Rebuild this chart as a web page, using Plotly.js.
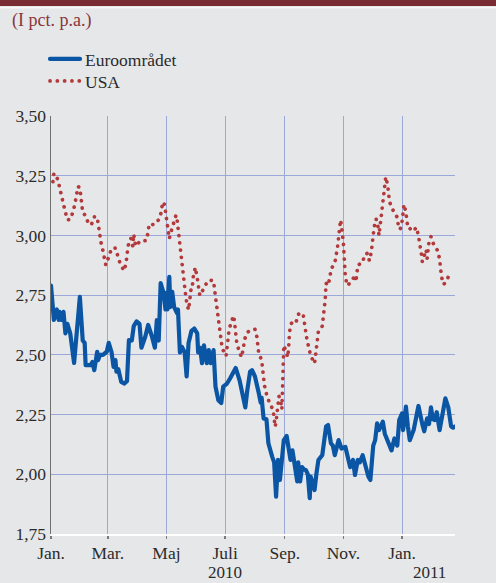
<!DOCTYPE html>
<html>
<head>
<meta charset="utf-8">
<script src="https://cdn.plot.ly/plotly-3.0.1.min.js"></script>
<style>
  body { margin:0; background:#e6e7e9; }
  #chart { width:496px; height:583px; }
  .js-line { stroke-linecap: round; stroke-linejoin: round; }
</style>
</head>
<body>
<div id="chart"></div>
<script>
// Euroområdet (blå, fuld linje)
const euroDates = ['2010-01-01','2010-01-02','2010-01-04','2010-01-07','2010-01-09','2010-01-10','2010-01-12','2010-01-14','2010-01-16','2010-01-18','2010-01-21','2010-01-25','2010-01-27','2010-01-29','2010-01-31','2010-02-03','2010-02-05','2010-02-06','2010-02-11','2010-02-13','2010-02-15','2010-02-18','2010-02-19','2010-02-21','2010-02-24','2010-02-28','2010-03-02','2010-03-05','2010-03-07','2010-03-09','2010-03-10','2010-03-12','2010-03-15','2010-03-18','2010-03-21','2010-03-23','2010-03-26','2010-03-28','2010-03-31','2010-04-03','2010-04-05','2010-04-09','2010-04-12','2010-04-16','2010-04-19','2010-04-21','2010-04-23','2010-04-25','2010-04-28','2010-04-30','2010-05-01','2010-05-02','2010-05-04','2010-05-05','2010-05-07','2010-05-09','2010-05-12','2010-05-13','2010-05-15','2010-05-17','2010-05-20','2010-05-22','2010-05-24','2010-05-27','2010-05-30','2010-06-02','2010-06-03','2010-06-05','2010-06-07','2010-06-09','2010-06-12','2010-06-14','2010-06-16','2010-06-19','2010-06-21','2010-06-24','2010-06-27','2010-06-29','2010-07-03','2010-07-06','2010-07-10','2010-07-12','2010-07-16','2010-07-19','2010-07-22','2010-07-24','2010-07-27','2010-07-29','2010-08-01','2010-08-05','2010-08-07','2010-08-08','2010-08-10','2010-08-13','2010-08-15','2010-08-19','2010-08-21','2010-08-23','2010-08-25','2010-08-27','2010-08-29','2010-08-31','2010-09-03','2010-09-04','2010-09-07','2010-09-09','2010-09-11','2010-09-14','2010-09-15','2010-09-17','2010-09-19','2010-09-21','2010-09-23','2010-09-25','2010-09-27','2010-09-28','2010-09-30','2010-10-02','2010-10-04','2010-10-06','2010-10-10','2010-10-12','2010-10-14','2010-10-16','2010-10-19','2010-10-21','2010-10-23','2010-10-27','2010-10-30','2010-11-03','2010-11-05','2010-11-08','2010-11-11','2010-11-13','2010-11-16','2010-11-18','2010-11-21','2010-11-24','2010-11-27','2010-11-29','2010-12-02','2010-12-04','2010-12-06','2010-12-08','2010-12-12','2010-12-14','2010-12-18','2010-12-21','2010-12-24','2010-12-27','2010-12-29','2011-01-01','2011-01-02','2011-01-05','2011-01-07','2011-01-09','2011-01-13','2011-01-16','2011-01-18','2011-01-22','2011-01-24','2011-01-27','2011-01-29','2011-01-31','2011-02-02','2011-02-04','2011-02-06','2011-02-09','2011-02-11','2011-02-15','2011-02-18','2011-02-21','2011-02-23','2011-02-25'];
const euroVals = [2.79,2.73,2.646,2.69,2.646,2.68,2.646,2.68,2.59,2.63,2.59,2.466,2.56,2.66,2.743,2.56,2.55,2.457,2.457,2.47,2.436,2.513,2.478,2.50,2.50,2.513,2.55,2.51,2.45,2.478,2.43,2.44,2.387,2.38,2.39,2.562,2.56,2.62,2.64,2.63,2.53,2.576,2.625,2.576,2.53,2.645,2.56,2.80,2.76,2.69,2.76,2.69,2.827,2.70,2.764,2.70,2.675,2.69,2.51,2.534,2.51,2.41,2.55,2.60,2.61,2.59,2.51,2.53,2.465,2.54,2.465,2.52,2.465,2.52,2.367,2.31,2.298,2.367,2.38,2.40,2.436,2.445,2.394,2.34,2.28,2.35,2.43,2.436,2.41,2.34,2.30,2.32,2.234,2.23,2.13,2.073,2.05,1.906,2.06,1.976,2.09,2.143,2.16,2.14,2.06,2.10,2.05,1.97,2.05,1.97,2.03,2.02,2.018,2.00,1.90,1.99,1.96,1.934,2.005,2.06,2.08,2.143,2.20,2.206,2.13,2.12,2.08,2.143,2.108,2.115,2.073,2.03,2.06,1.997,2.06,2.05,2.08,2.03,1.99,1.976,2.12,2.143,2.213,2.185,2.22,2.17,2.13,2.10,2.15,2.12,2.227,2.255,2.185,2.283,2.20,2.143,2.185,2.24,2.286,2.21,2.18,2.234,2.21,2.28,2.23,2.227,2.26,2.185,2.234,2.318,2.28,2.20,2.195,2.20];

// USA (rød, prikket linje)
const usaDates = ['2010-01-03','2010-01-04','2010-01-08','2010-01-10','2010-01-11','2010-01-14','2010-01-16','2010-01-18','2010-01-21','2010-01-24','2010-01-26','2010-01-28','2010-01-29','2010-01-31','2010-02-01','2010-02-02','2010-02-03','2010-02-06','2010-02-09','2010-02-12','2010-02-15','2010-02-18','2010-02-19','2010-02-20','2010-02-22','2010-02-24','2010-02-26','2010-02-27','2010-03-02','2010-03-05','2010-03-09','2010-03-11','2010-03-14','2010-03-18','2010-03-20','2010-03-21','2010-03-22','2010-03-25','2010-03-27','2010-03-28','2010-03-30','2010-04-04','2010-04-10','2010-04-12','2010-04-13','2010-04-18','2010-04-24','2010-04-26','2010-04-27','2010-04-29','2010-04-30','2010-05-01','2010-05-02','2010-05-04','2010-05-06','2010-05-08','2010-05-11','2010-05-12','2010-05-13','2010-05-14','2010-05-15','2010-05-16','2010-05-17','2010-05-18','2010-05-19','2010-05-20','2010-05-21','2010-05-22','2010-05-24','2010-05-25','2010-05-26','2010-05-27','2010-05-28','2010-05-29','2010-05-31','2010-06-02','2010-06-03','2010-06-04','2010-06-05','2010-06-09','2010-06-13','2010-06-15','2010-06-19','2010-06-20','2010-06-21','2010-06-22','2010-06-23','2010-06-25','2010-06-26','2010-06-27','2010-06-28','2010-07-02','2010-07-03','2010-07-04','2010-07-05','2010-07-07','2010-07-10','2010-07-11','2010-07-12','2010-07-13','2010-07-15','2010-07-18','2010-07-20','2010-07-21','2010-07-24','2010-07-28','2010-08-01','2010-08-03','2010-08-04','2010-08-05','2010-08-08','2010-08-09','2010-08-10','2010-08-11','2010-08-13','2010-08-16','2010-08-20','2010-08-21','2010-08-22','2010-08-23','2010-08-24','2010-08-25','2010-08-26','2010-08-28','2010-08-29','2010-08-30','2010-08-31','2010-09-03','2010-09-04','2010-09-05','2010-09-06','2010-09-08','2010-09-11','2010-09-13','2010-09-15','2010-09-20','2010-09-21','2010-09-23','2010-09-24','2010-09-26','2010-09-28','2010-10-02','2010-10-03','2010-10-04','2010-10-05','2010-10-06','2010-10-10','2010-10-11','2010-10-12','2010-10-13','2010-10-14','2010-10-16','2010-10-18','2010-10-19','2010-10-23','2010-10-25','2010-10-26','2010-10-27','2010-10-28','2010-10-29','2010-10-30','2010-10-31','2010-11-01','2010-11-02','2010-11-03','2010-11-05','2010-11-10','2010-11-13','2010-11-14','2010-11-16','2010-11-21','2010-11-23','2010-11-26','2010-11-28','2010-11-30','2010-12-01','2010-12-02','2010-12-03','2010-12-05','2010-12-07','2010-12-08','2010-12-09','2010-12-10','2010-12-11','2010-12-12','2010-12-13','2010-12-14','2010-12-15','2010-12-17','2010-12-18','2010-12-19','2010-12-22','2010-12-25','2010-12-27','2010-12-28','2010-12-30','2011-01-01','2011-01-02','2011-01-03','2011-01-05','2011-01-06','2011-01-07','2011-01-09','2011-01-11','2011-01-13','2011-01-16','2011-01-18','2011-01-20','2011-01-21','2011-01-22','2011-01-24','2011-01-26','2011-01-27','2011-01-28','2011-01-29','2011-01-31','2011-02-03','2011-02-07','2011-02-09','2011-02-10','2011-02-11','2011-02-13','2011-02-16','2011-02-18'];
const usaVals = [3.225,3.26,3.235,3.20,3.166,3.13,3.097,3.065,3.067,3.10,3.134,3.17,3.205,3.20,3.165,3.13,3.095,3.083,3.048,3.045,3.078,3.078,3.045,3.006,2.97,2.936,2.90,2.876,2.91,2.946,2.947,2.915,2.88,2.852,2.883,2.915,2.955,2.988,2.955,3.005,2.955,2.978,2.978,3.013,3.048,3.045,3.07,3.106,3.14,3.13,3.095,3.058,3.023,2.986,3.018,3.05,3.085,3.07,3.03,2.998,2.963,2.928,2.89,2.855,2.82,2.783,2.748,2.722,2.688,2.72,2.757,2.79,2.79,2.83,2.866,2.83,2.80,2.762,2.748,2.78,2.81,2.813,2.81,2.775,2.74,2.704,2.67,2.632,2.597,2.562,2.527,2.495,2.53,2.562,2.60,2.634,2.664,2.63,2.593,2.555,2.523,2.49,2.527,2.562,2.594,2.605,2.607,2.576,2.541,2.506,2.478,2.443,2.408,2.37,2.336,2.30,2.269,2.234,2.199,2.22,2.255,2.29,2.327,2.30,2.272,2.40,2.54,2.506,2.49,2.527,2.597,2.632,2.646,2.64,2.67,2.674,2.64,2.604,2.566,2.53,2.496,2.464,2.49,2.53,2.565,2.60,2.62,2.657,2.692,2.728,2.80,2.79,2.825,2.858,2.883,2.92,2.955,2.992,3.03,3.065,3.04,3.006,2.967,2.897,2.827,2.79,2.81,2.835,2.806,2.876,2.886,2.92,2.925,2.894,2.93,2.967,3.00,3.036,3.069,3.036,3.00,3.03,3.065,3.10,3.134,3.17,3.208,3.245,3.21,3.173,3.14,3.11,3.09,3.075,3.043,3.025,3.06,3.095,3.13,3.095,3.062,3.03,3.03,3.018,3.02,3.034,2.998,2.96,2.925,2.89,2.914,2.94,2.904,2.94,2.974,2.995,2.96,2.936,2.90,2.862,2.827,2.795,2.806,2.827];

const tickDates = ['2010-01-01','2010-03-01','2010-05-01','2010-07-01','2010-09-01','2010-11-01','2011-01-01'];
const tickLabels = ['Jan.','Mar.','Maj','Juli','Sep.','Nov.','Jan.'];
const yearLabels = ['2010','2011'];
const yearPos = ['2010-07-01','2011-01-30'];

const serif = 'Liberation Serif, Times New Roman, serif';
const gridCol = '#9aa9da';
const bg = '#e6e7e9';

const traces = [
  {
    type:'scatter', mode:'lines', name:'Euroområdet', legend:'legend',
    x: euroDates, y: euroVals,
    line:{color:'#0b56a4', width:4.2},
    hoverinfo:'skip'
  },
  {
    type:'scatter', mode:'lines', name:'USA', legend:'legend2',
    x: usaDates, y: usaVals,
    line:{color:'#b3393a', width:3.7, dash:'0.1px,7.2px'},
    hoverinfo:'skip'
  }
];

const pxY = py => (534 - py) / 418;  // pixel row -> paper y
const pxX = px => (px - 51) / 404;   // pixel column -> paper x

function legendAt(cy){
  return {
    x:pxX(45), y:pxY(cy), xanchor:'left', yanchor:'middle',
    bgcolor:'rgba(0,0,0,0)', font:{family:serif, size:17.5, color:'#2b2b2b'},
    itemwidth:30
  };
}

const layout = {
  width:496, height:583,
  margin:{l:51, r:41, t:116, b:49},
  paper_bgcolor:bg, plot_bgcolor:bg,
  separators:',.',
  font:{family:serif, size:17.5, color:'#2b2b2b'},
  showlegend:true,
  title:{
    text:'(I pct. p.a.)', font:{family:serif, size:18, color:'#8a3539'},
    xref:'container', yref:'container', x:12/496, xanchor:'left', y:1-20/583, yanchor:'middle'
  },
  legend:legendAt(59),
  legend2:legendAt(81),
  xaxis:{
    type:'date', range:['2010-01-01','2011-02-25'],
    tickmode:'array', tickvals:tickDates, ticktext:tickLabels,
    showgrid:true, gridcolor:gridCol, gridwidth:1,
    showline:true, linecolor:'#ffffff', linewidth:2,
    ticks:'outside', ticklen:3, tickcolor:'#7a7a7a', tickwidth:1.5,
    ticklabelstandoff:-1,
    zeroline:false, fixedrange:true
  },
  yaxis:{
    range:[1.75,3.5], tick0:1.75, dtick:0.25, tickformat:'.2f',
    showgrid:true, gridcolor:gridCol, gridwidth:1,
    showline:true, linecolor:'#707070', linewidth:1.5,
    ticks:'', zeroline:false, fixedrange:true
  },
  yaxis2:{
    overlaying:'y', side:'right',
    range:[1.75,3.5], tick0:1.75, dtick:0.25, tickformat:'.2f',
    showgrid:false, showline:true, linecolor:'#707070', linewidth:1.5,
    ticks:'', ticklabelstandoff:4, zeroline:false, fixedrange:true
  },
  shapes:[
    {type:'rect', xref:'paper', yref:'paper', x0:-0.2, x1:1.2, y0:pxY(6), y1:pxY(-2), fillcolor:'#7a2c33', line:{width:0}},
    {type:'rect', xref:'paper', yref:'paper', x0:-0.2, x1:1.2, y0:pxY(8.5), y1:pxY(7), fillcolor:'rgba(255,255,255,0.7)', line:{width:0}}
  ],
  annotations: yearLabels.map((t,i)=>({
    text:t, x:yearPos[i], xref:'x', y:pxY(583), yref:'paper',
    showarrow:false, xanchor:'center', yanchor:'bottom', borderpad:0,
    font:{family:serif, size:17, color:'#2b2b2b'}
  }))
};

Plotly.newPlot('chart', traces, layout, {displayModeBar:false, staticPlot:true});
</script>
</body>
</html>
